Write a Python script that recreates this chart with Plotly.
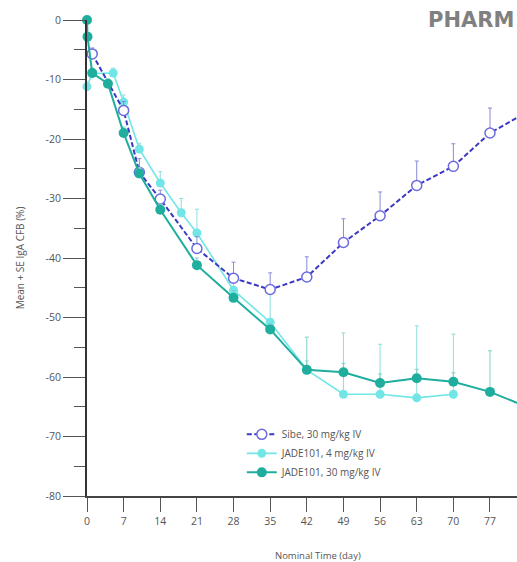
import plotly.graph_objects as go

# ---- data ----
sibe_days = [1, 7, 10, 14, 21, 28, 35, 42, 49, 56, 63, 70, 77, 84]
sibe_mean = [-5.7, -15.2, -25.6, -30.1, -38.4, -43.4, -45.3, -43.2, -37.4, -32.9, -27.8, -24.6, -19.0, -15.5]
sibe_se = [1.0, 1.5, 2.3, 1.5, 2.0, 2.7, 2.8, 3.4, 4.0, 4.0, 4.1, 3.8, 4.2, 4.0]

j4_days = [0, 1, 5, 7, 10, 14, 18, 21, 28, 35, 42, 49, 56, 63, 70]
j4_mean = [-11.2, -9.0, -8.9, -13.8, -21.7, -27.4, -32.4, -35.8, -45.4, -50.8, -58.8, -62.9, -62.9, -63.5, -62.9]
j4_se = [0.8, 0.8, 0.8, 1.2, 1.0, 1.9, 2.4, 4.0, 1.5, 5.0, 1.5, 10.3, 8.4, 12.1, 10.1]

j30_days = [0, 0.1, 1, 4, 7, 10, 14, 21, 28, 35, 42, 49, 56, 63, 70, 77, 84]
j30_mean = [0.0, -2.8, -8.9, -10.7, -19.0, -25.8, -31.9, -41.2, -46.7, -52.0, -58.8, -59.2, -61.0, -60.2, -60.8, -62.5, -65.0]
j30_se = [0.0, 0.5, 0.8, 0.8, 1.0, 1.0, 1.0, 1.2, 1.2, 1.0, 5.5, 1.5, 1.5, 1.5, 1.5, 6.9, 6.0]

x_ticks = [0, 7, 14, 21, 28, 35, 42, 49, 56, 63, 70, 77]
y_ticks = [0, -10, -20, -30, -40, -50, -60, -70, -80]
y_ticklabels = ["0", "-10", "-20", "-30", "-40", "-50", "-60", "-70", "-80"]

SIBE = "#3a38c4"
SIBE_MK = "#6b6ae0"
SIBE_ERR = "#8a8ad8"
J4 = "#72e6e6"
J4_ERR = "#8fdede"
J30 = "#1fae9e"
J30_ERR = "#7fcfc8"
FONT = "Open Sans"

fig = go.Figure()

fig.add_trace(go.Scatter(
    x=j4_days, y=j4_mean, mode="lines+markers", name="JADE101, 4 mg/kg IV",
    line=dict(color=J4, width=1.6),
    marker=dict(symbol="circle", size=9, color=J4),
    error_y=dict(type="data", array=j4_se, arrayminus=[0] * len(j4_se), symmetric=False,
                 color=J4_ERR, thickness=1, width=2),
    cliponaxis=False, legendrank=2,
))
fig.add_trace(go.Scatter(
    x=sibe_days, y=sibe_mean, mode="lines+markers", name="Sibe, 30 mg/kg IV",
    line=dict(color=SIBE, width=2, dash="5px,2.5px"),
    marker=dict(symbol="circle", size=10, color="white", line=dict(color=SIBE_MK, width=1.5)),
    error_y=dict(type="data", array=sibe_se, arrayminus=[0] * len(sibe_se), symmetric=False,
                 color=SIBE_ERR, thickness=1, width=2),
    cliponaxis=False, legendrank=1,
))
fig.add_trace(go.Scatter(
    x=j30_days, y=j30_mean, mode="lines+markers", name="JADE101, 30 mg/kg IV",
    line=dict(color=J30, width=2),
    marker=dict(symbol="circle", size=10, color=J30),
    error_y=dict(type="data", array=j30_se, arrayminus=[0] * len(j30_se), symmetric=False,
                 color=J30_ERR, thickness=1, width=2),
    cliponaxis=False, legendrank=3,
))

fig.update_layout(
    width=517, height=562,
    margin=dict(l=87, r=0, t=20, b=66),
    paper_bgcolor="white", plot_bgcolor="white",
    font=dict(family=FONT, color="#555555"),
    showlegend=True,
    legend=dict(x=0.36, y=0.16, xanchor="left", yanchor="top",
                bgcolor="rgba(0,0,0,0)", font=dict(size=10, color="#555555", family=FONT),
                itemwidth=30, tracegroupgap=0),
    xaxis=dict(range=[0, 82.16], tickvals=x_ticks, ticks="outside", ticklen=14,
               tickcolor="#555555", tickwidth=1.2, showline=True, linecolor="#444444",
               linewidth=2, showgrid=False, zeroline=False,
               tickfont=dict(size=10.5, color="#555555", family=FONT)),
    yaxis=dict(range=[-80, 0], tickvals=y_ticks, ticktext=y_ticklabels, ticks="outside",
               ticklen=22, tickcolor="#555555", tickwidth=1.2, showline=True,
               linecolor="#333333", linewidth=2, showgrid=False, zeroline=False,
               tickfont=dict(size=10.5, color="#555555", family=FONT),
               minor=dict(dtick=5, tick0=0, ticks="outside", ticklen=11,
                          tickcolor="#555555", tickwidth=1.2, showgrid=False)),
    annotations=[
        dict(text="Mean + SE IgA CFB (%)", textangle=-90, xref="paper", yref="paper",
             x=-0.155, y=0.5, showarrow=False, xanchor="center", yanchor="middle",
             font=dict(size=10, color="#555555", family=FONT)),
        dict(text="Nominal Time (day)", xref="paper", yref="paper",
             x=0.537, y=-0.126, showarrow=False, xanchor="center", yanchor="middle",
             font=dict(size=9.5, color="#555555", family=FONT)),
        dict(text="<b>PHARM</b>", xref="paper", yref="paper",
             x=0.788, y=1.0, showarrow=False, xanchor="left", yanchor="middle",
             font=dict(size=21, color="#808080", family="DejaVu Sans")),
    ],
)

fig.write_html("out.html")
